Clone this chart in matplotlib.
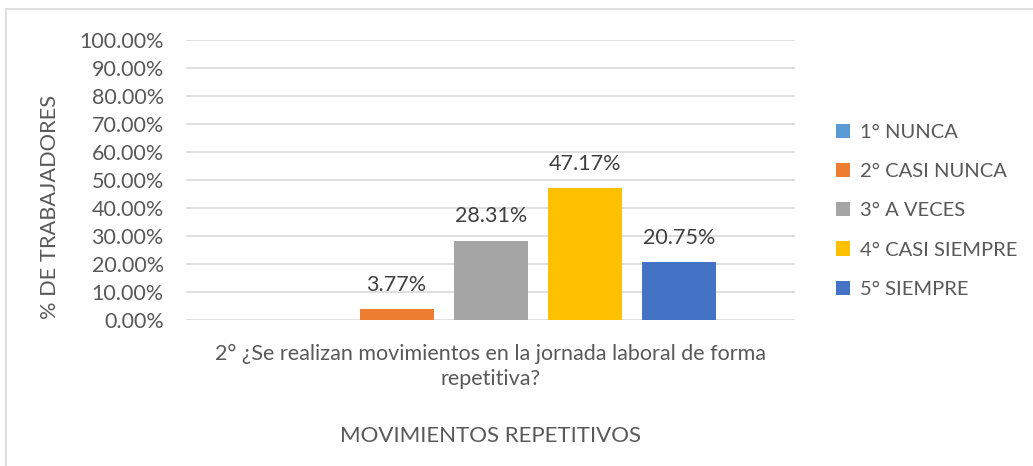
import matplotlib.pyplot as plt
import numpy as np

categorias = ["1° NUNCA", "2° CASI NUNCA", "3° A VECES", "4° CASI SIEMPRE", "5° SIEMPRE"]
valores = [0.0, 3.77, 28.31, 47.17, 20.75]
colores = ["#5B9BD5", "#ED7D31", "#A5A5A5", "#FFC000", "#4472C4"]
pregunta = "2° ¿Se realizan movimientos en la jornada laboral de forma\nrepetitiva?"
yticks = np.arange(0, 101, 10)

plt.rcParams["font.family"] = ["Lato", "DejaVu Sans"]
texto = "#595959"

fig = plt.figure(figsize=(10.33, 4.66), dpi=100)
ax = fig.add_axes([0.180, 0.3133, 0.590, 0.6009])

# marco del grafico
fig.patches.append(plt.Rectangle((6 / 1033, -0.1), 1.2, 1 - 9 / 466 + 0.1,
                                 transform=fig.transFigure, fill=False,
                                 edgecolor="#d9d9d9", linewidth=1.2))

paso = 0.1544
ancho = 0.1215
n = len(valores)
for i, (cat, v, c) in enumerate(zip(categorias, valores, colores)):
    x = (i - (n - 1) / 2) * paso
    ax.bar(x, v, width=ancho, color=c, label=cat, zorder=3)
    if v > 0:
        ax.annotate(f"{v:.2f}%", (x, v), xytext=(0, 17.5), textcoords="offset points",
                    ha="center", va="center", fontsize=15.5, color="#404040", zorder=4)

ax.set_xlim(-0.5, 0.5)
ax.set_ylim(0, 100)
ax.set_yticks(yticks)
ax.set_yticklabels([f"{t:.2f}%" for t in yticks], fontsize=15.5, color=texto)
ax.yaxis.grid(True, color="#d9d9d9", linewidth=1.2, zorder=0)
ax.tick_params(axis="y", length=0, pad=16)
ax.set_xticks([0])
ax.set_xticklabels([pregunta], fontsize=15.5, color=texto, linespacing=1.3)
ax.tick_params(axis="x", length=0, pad=17)
for lab in ax.get_xticklabels():
    lab.set_multialignment("center")
for s in ax.spines.values():
    s.set_visible(False)

ax.set_ylabel("% DE TRABAJADORES", fontsize=15.7, color=texto)
ax.yaxis.set_label_coords(-0.207, 0.405)
ax.set_xlabel("MOVIMIENTOS REPETITIVOS", fontsize=16, color=texto)
ax.xaxis.set_label_coords(0.5, -0.379)

leg = ax.legend(loc="center left", bbox_to_anchor=(1.037, 0.39), frameon=False,
                fontsize=14.5, labelcolor=texto, handlelength=0.7, handleheight=0.7,
                handletextpad=0.5, labelspacing=1.1)

fig.savefig("out.png", dpi=100)
